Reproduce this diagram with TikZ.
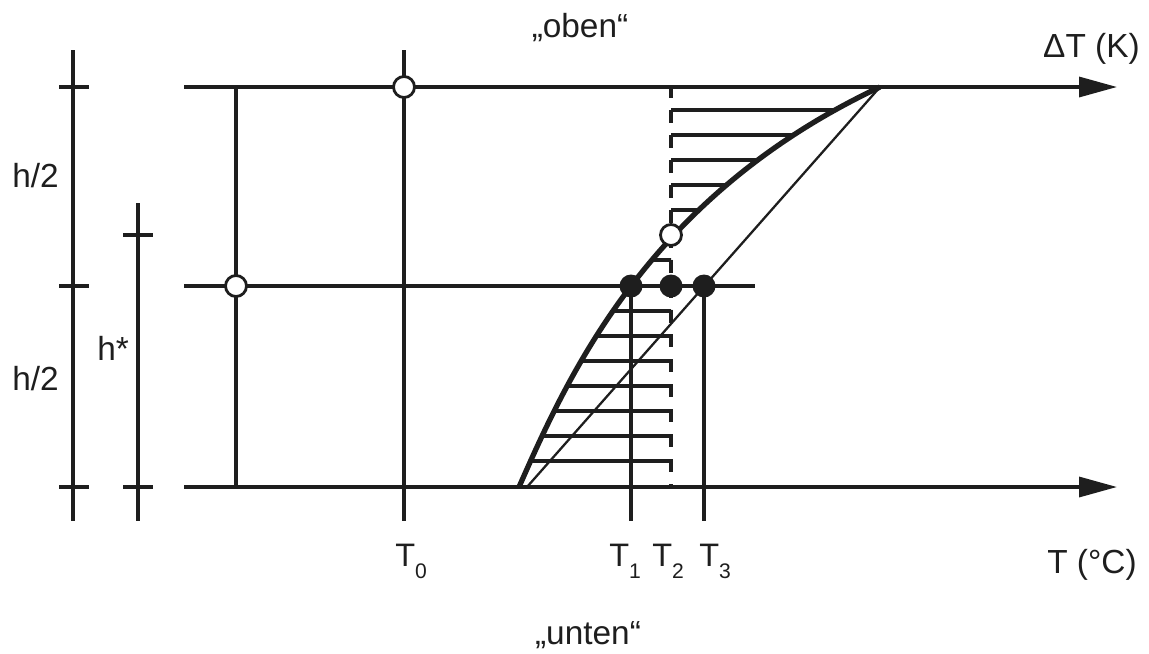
\documentclass[tikz,border=0pt]{standalone}
\usepackage{fontspec}
\setmainfont{Liberation Sans}
\usetikzlibrary{arrows.meta, positioning}
\definecolor{inkcol}{HTML}{1E1E1E}

\newcommand{\Tsub}[1]{T\raisebox{-0.24cm}{\fontsize{12}{12}\selectfont #1}}

\begin{document}
\begin{tikzpicture}[
        x=0.02cm, y=-0.02cm,
        >={Triangle[length=0.76cm, width=0.4cm]},
        axisline/.style={line width=1.9pt, draw=inkcol},
        dimline/.style={line width=1.9pt, draw=inkcol},
        thinline/.style={line width=1.3pt, draw=inkcol},
        curveline/.style={line width=3.0pt, draw=inkcol},
        hatch/.style={line width=1.8pt, draw=inkcol},
        meanline/.style={line width=1.8pt, draw=inkcol, dash pattern=on 7.4pt off 6.8pt},
        opendot/.style={circle, draw=inkcol, fill=white, line width=1.6pt, minimum size=0.42cm, inner sep=0pt},
        fulldot/.style={circle, fill=inkcol, minimum size=0.46cm, inner sep=0pt},
        lbl/.style={font=\fontsize{19}{22}\selectfont, text=inkcol, inner sep=0pt},
        tlbl/.style={font=\fontsize{18.5}{20}\selectfont, text=inkcol, inner sep=0pt, anchor=base west},
        profile/.style={insert path={(519,487) .. controls (568,376) and (648,196) .. (880,87)}}
    ]

    \useasboundingbox (0,0) rectangle (1149,653);

    %% --- key points ---
    \coordinate (topL) at (184,87);
    \coordinate (topR) at (1117,87);
    \coordinate (botL) at (184,487);
    \coordinate (botR) at (1117,487);
    \coordinate (midL) at (184,286);
    \coordinate (midR) at (755,286);
    \coordinate (apex) at (880,87);
    \coordinate (linfoot) at (527,487);

    %% --- hatching between profile and mean value ---
    \begin{scope}
        \clip[profile] -- (671,87) -- (671,487) -- cycle;
        \foreach \yy in {110,135,160,185,210,235,260,311,336,361,386,411,436,461}
            \draw[hatch] (480,\yy) -- (900,\yy);
    \end{scope}
    \draw[meanline] (671,85) -- (671,487);

    %% --- axes ---
    \draw[axisline, ->] (topL) -- (topR);
    \draw[axisline, ->] (botL) -- (botR);
    \draw[axisline] (midL) -- (midR);

    %% --- verticals ---
    \draw[axisline] (236,87) -- (236,487);
    \draw[axisline] (404,50) -- (404,521);
    \draw[axisline] (631,286) -- (631,521);
    \draw[axisline] (704,286) -- (704,521);

    %% --- profiles ---
    \draw[thinline] (linfoot) -- (apex);
    \draw[curveline, profile];

    %% --- dimension lines left ---
    \draw[dimline] (73,50) -- (73,521);
    \foreach \yy in {87,286,487}
        \draw[dimline] (59,\yy) -- (89,\yy);
    \draw[dimline] (138,203) -- (138,521);
    \foreach \yy in {235,487}
        \draw[dimline] (123,\yy) -- (153,\yy);

    %% --- measuring points ---
    \node[opendot] (p0) at (404,87) {};
    \node[opendot] (pl) at (236,286) {};
    \node[opendot] (ph) at (671,235) {};
    \node[fulldot] (d1) at (631,286) {};
    \node[fulldot] (d2) at (671,286) {};
    \node[fulldot] (d3) at (704,286) {};

    %% --- labels ---
    \node[lbl, anchor=base] (oben) at (580,37) {„oben“};
    \node[lbl, anchor=base] (unten) at (588,644) {„unten“};
    \node[lbl, anchor=base east] (dT) at (1140,57) {ΔT (K)};
    \node[lbl, anchor=base east] (Tc) at (1137,573) {T (°C)};
    \node[lbl, anchor=base west] (h1) at (12,187) {h/2};
    \node[lbl, anchor=base west] (h2) at (12,390) {h/2};
    \node[lbl, anchor=base west] (hs) at (97,360) {h*};

    \node[tlbl] (t0) at (395,566) {\Tsub{0}};
    \node[tlbl] (t1) at (609,566) {\Tsub{1}};
    \node[tlbl] (t2) at (652,566) {\Tsub{2}};
    \node[tlbl] (t3) at (699,566) {\Tsub{3}};

\end{tikzpicture}
\end{document}
